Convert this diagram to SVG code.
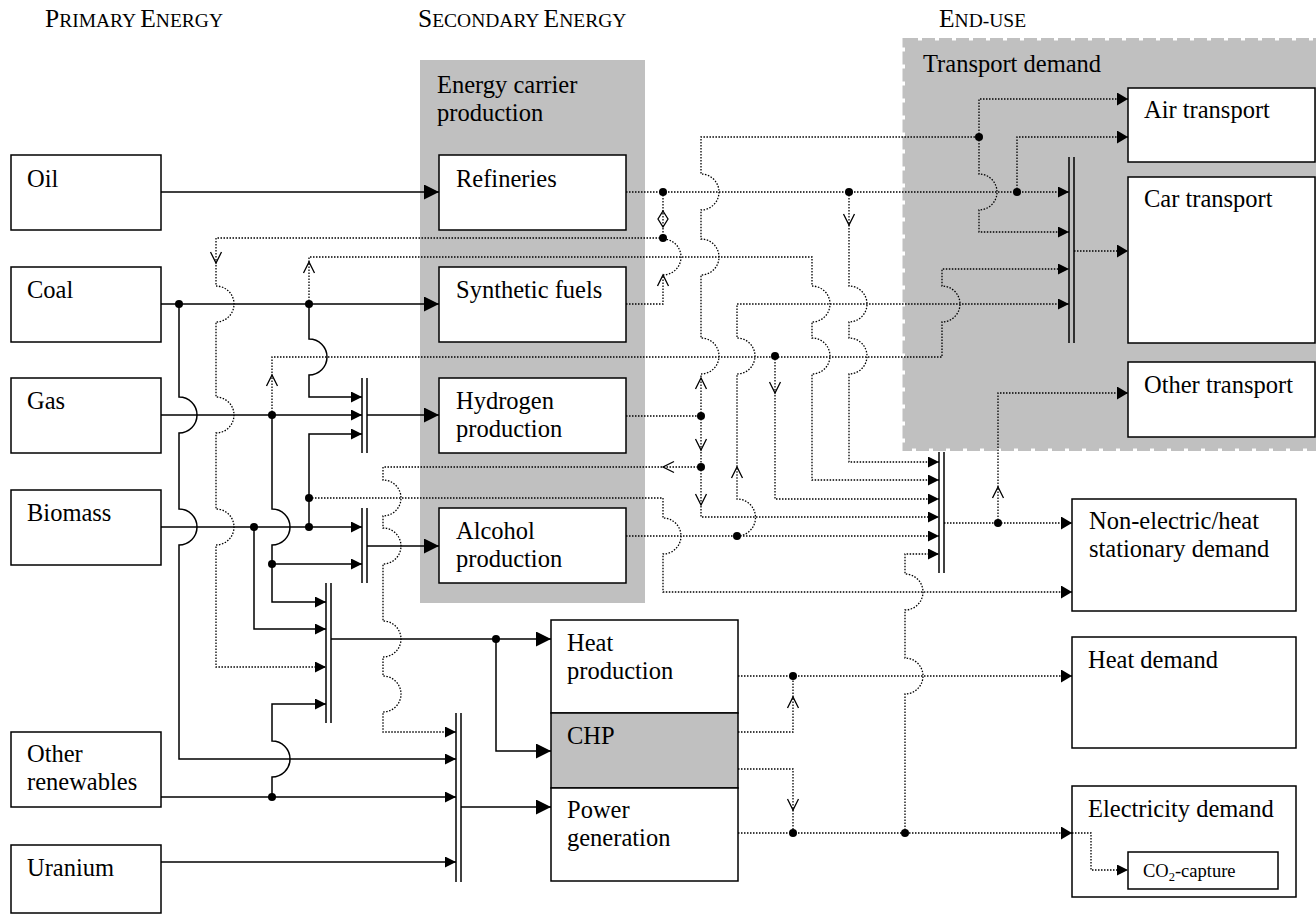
<svg xmlns="http://www.w3.org/2000/svg" width="1316" height="915" viewBox="0 0 1316 915">
<style>
text{font-family:"Liberation Serif","Times New Roman",serif;fill:#000}
.t{font-size:24.5px}
.box{fill:#fff;stroke:#000;stroke-width:1.5}
.s{fill:none;stroke:#000;stroke-width:1.5}
.d{fill:none;stroke:#000;stroke-width:1.3;stroke-dasharray:1.5 1.5}
.o{fill:none;stroke:#000;stroke-width:1.3}
.bus{stroke:#000;stroke-width:1.5}
.dot{fill:#000}
.cap{font-size:25.5px}
.sc{font-size:19.5px}
</style>
<defs>
<marker id="aL" markerUnits="userSpaceOnUse" markerWidth="15" markerHeight="15" refX="15" refY="7.5" orient="auto"><path d="M0,0 L15,7.5 L0,15 z" fill="#000"/></marker>
<marker id="aS" markerUnits="userSpaceOnUse" markerWidth="11" markerHeight="11" refX="11" refY="5.5" orient="auto"><path d="M0,0 L11,5.5 L0,11 z" fill="#000"/></marker>
<marker id="aM" markerUnits="userSpaceOnUse" markerWidth="11" markerHeight="13" refX="11" refY="6.5" orient="auto"><path d="M0,0 L11,6.5 L0,13 z" fill="#000"/></marker>
</defs>
<rect width="1316" height="915" fill="#fff"/>

<g id="headers">
<text x="45" y="27"><tspan class="cap">P</tspan><tspan class="sc">RIMARY </tspan><tspan class="cap">E</tspan><tspan class="sc">NERGY</tspan></text>
<text x="418" y="27"><tspan class="cap">S</tspan><tspan class="sc">ECONDARY </tspan><tspan class="cap">E</tspan><tspan class="sc">NERGY</tspan></text>
<text x="939" y="27"><tspan class="cap">E</tspan><tspan class="sc">ND-USE</tspan></text>
</g>

<g id="energy-carrier-production">
<rect x="420" y="60" width="225" height="543" fill="#c0c0c0"/>
<text class="t" x="437" y="93">Energy carrier</text>
<text class="t" x="437" y="121">production</text>
</g>

<g id="transport-demand">
<rect x="905" y="40.5" width="420" height="408" fill="#c0c0c0" stroke="#c0c0c0" stroke-width="5" stroke-dasharray="13 4"/>
<text class="t" x="923" y="72">Transport demand</text>
</g>

<g id="oil"><rect class="box" x="11" y="155" width="150" height="75"/><text class="t" x="27" y="187">Oil</text></g>
<g id="coal"><rect class="box" x="11" y="267" width="150" height="75"/><text class="t" x="27" y="298">Coal</text></g>
<g id="gas"><rect class="box" x="11" y="378" width="150" height="75"/><text class="t" x="27" y="409">Gas</text></g>
<g id="biomass"><rect class="box" x="11" y="490" width="150" height="75"/><text class="t" x="27" y="521">Biomass</text></g>
<g id="other-renewables"><rect class="box" x="11" y="732" width="150" height="75"/><text class="t" x="27" y="762">Other</text><text class="t" x="27" y="790">renewables</text></g>
<g id="uranium"><rect class="box" x="11" y="845" width="150" height="68"/><text class="t" x="27" y="876">Uranium</text></g>

<g id="refineries"><rect class="box" x="439" y="155" width="187" height="75"/><text class="t" x="456" y="187">Refineries</text></g>
<g id="synthetic-fuels"><rect class="box" x="439" y="267" width="187" height="75"/><text class="t" x="456" y="298">Synthetic fuels</text></g>
<g id="hydrogen-production"><rect class="box" x="439" y="378" width="187" height="75"/><text class="t" x="456" y="409">Hydrogen</text><text class="t" x="456" y="437">production</text></g>
<g id="alcohol-production"><rect class="box" x="439" y="508" width="187" height="75"/><text class="t" x="456" y="539">Alcohol</text><text class="t" x="456" y="567">production</text></g>

<g id="heat-production"><rect class="box" x="551" y="620" width="187" height="93"/><text class="t" x="567" y="651">Heat</text><text class="t" x="567" y="679">production</text></g>
<g id="chp"><rect x="551" y="713" width="187" height="75" fill="#c0c0c0" stroke="#000" stroke-width="1.5"/><text class="t" x="567" y="744">CHP</text></g>
<g id="power-generation"><rect class="box" x="551" y="788" width="187" height="93"/><text class="t" x="567" y="818">Power</text><text class="t" x="567" y="846">generation</text></g>

<g id="air-transport"><rect class="box" x="1128" y="88" width="187" height="74"/><text class="t" x="1144" y="118">Air transport</text></g>
<g id="car-transport"><rect class="box" x="1128" y="177" width="187" height="166"/><text class="t" x="1144" y="207">Car transport</text></g>
<g id="other-transport"><rect class="box" x="1128" y="362" width="187" height="75"/><text class="t" x="1144" y="393">Other transport</text></g>
<g id="non-electric-heat-stationary-demand"><rect class="box" x="1072" y="499" width="224" height="112"/><text class="t" x="1089" y="529">Non-electric/heat</text><text class="t" x="1089" y="557">stationary demand</text></g>
<g id="heat-demand"><rect class="box" x="1072" y="637" width="224" height="111"/><text class="t" x="1088" y="668">Heat demand</text></g>
<g id="electricity-demand"><rect class="box" x="1072" y="786" width="224" height="111"/><text class="t" x="1088" y="817">Electricity demand</text></g>
<g id="co2-capture"><rect class="box" x="1128" y="852" width="150" height="37"/><text x="1143" y="877" font-size="18.5">CO<tspan font-size="12.5" dy="4">2</tspan><tspan dy="-4">-capture</tspan></text></g>

<g id="connectors">
<g class="bus">
<line x1="362" y1="378" x2="362" y2="453"/><line x1="367" y1="378" x2="367" y2="453"/>
<line x1="362" y1="508" x2="362" y2="583"/><line x1="367" y1="508" x2="367" y2="583"/>
<line x1="326" y1="583" x2="326" y2="723"/><line x1="331" y1="583" x2="331" y2="723"/>
<line x1="456" y1="713" x2="456" y2="882"/><line x1="461" y1="713" x2="461" y2="882"/>
<line x1="939" y1="452" x2="939" y2="573"/><line x1="944" y1="452" x2="944" y2="573"/>
<line x1="1069" y1="157" x2="1069" y2="343"/><line x1="1074" y1="157" x2="1074" y2="343"/>
</g>
<path class="s" d="M161,192 H439" marker-end="url(#aL)"/>
<path class="s" d="M161,304 H439" marker-end="url(#aL)"/>
<path class="s" d="M179,304 V397 A18,18 0 0 1 179,433 V509 A18,18 0 0 1 179,545 V759 H456" marker-end="url(#aS)"/>
<path class="s" d="M309,304 V339 A18,18 0 0 1 309,375 V397 H362" marker-end="url(#aS)"/>
<path class="s" d="M161,415 H362" marker-end="url(#aS)"/>
<path class="s" d="M367,415 H439" marker-end="url(#aL)"/>
<path class="s" d="M272,415 V509 A18,18 0 0 1 272,545 V602 H326" marker-end="url(#aS)"/>
<path class="s" d="M272,564 H362" marker-end="url(#aS)"/>
<path class="s" d="M161,527 H362" marker-end="url(#aS)"/>
<path class="s" d="M309,527 V434 H362" marker-end="url(#aS)"/>
<path class="s" d="M254,527 V629 H326" marker-end="url(#aS)"/>
<path class="s" d="M367,546 H439" marker-end="url(#aL)"/>
<path class="s" d="M331,639 H551" marker-end="url(#aL)"/>
<path class="s" d="M496,639 V751 H551" marker-end="url(#aL)"/>
<path class="s" d="M161,797 H456" marker-end="url(#aS)"/>
<path class="s" d="M272,797 V777 A18,18 0 0 0 272,741 V704 H326" marker-end="url(#aS)"/>
<path class="s" d="M161,862 H456" marker-end="url(#aS)"/>
<path class="s" d="M461,807 H551" marker-end="url(#aL)"/>
<path class="d" d="M626,192 H1069" marker-end="url(#aS)"/>
<path class="d" d="M1017,192 V137 H1128" marker-end="url(#aM)"/>
<path class="d" d="M849,192 V286 A18,18 0 0 1 849,322 V338 A18,18 0 0 1 849,374 V462 H939" marker-end="url(#aS)"/>
<path class="d" d="M663,192 V238"/>
<path class="d" d="M663,238 H216 V286 A18,18 0 0 1 216,322 V397 A18,18 0 0 1 216,433 V509 A18,18 0 0 1 216,545 V667 H326" marker-end="url(#aS)"/>
<path class="d" d="M626,304 H663 V275 A18,18 0 0 0 663,239"/>
<path class="d" d="M309,304 V257 H812 V286 A18,18 0 0 1 812,322 V338 A18,18 0 0 1 812,374 V480 H939" marker-end="url(#aS)"/>
<path class="d" d="M272,415 V357 H942 V322 A18,18 0 0 0 942,286 V269 H1069" marker-end="url(#aS)"/>
<path class="d" d="M775,356 V499 H939" marker-end="url(#aS)"/>
<path class="d" d="M626,416 H701"/>
<path class="d" d="M701,416 V374 A18,18 0 0 0 701,338 V275 A18,18 0 0 0 701,239 V210 A18,18 0 0 0 701,174 V137 H979"/>
<path class="d" d="M979,137 V99 H1128" marker-end="url(#aM)"/>
<path class="d" d="M979,137 V174 A18,18 0 0 1 979,210 V232 H1069" marker-end="url(#aS)"/>
<path class="d" d="M701,416 V517 H939" marker-end="url(#aS)"/>
<path class="d" d="M701,467 H383 V480 A18,18 0 0 1 383,516 V528 A18,18 0 0 1 383,564 V621 A18,18 0 0 1 383,657 V676 A18,18 0 0 1 383,712 V732 H456" marker-end="url(#aS)"/>
<path class="d" d="M309,498 H663 V518 A18,18 0 0 1 663,554 V592 H1072" marker-end="url(#aM)"/>
<path class="d" d="M626,536 H939" marker-end="url(#aS)"/>
<path class="d" d="M737,536 A18.5,18.5 0 0 0 737,499 V374 A18,18 0 0 0 737,338 V304 H1069" marker-end="url(#aS)"/>
<path class="d" d="M944,523 H1072" marker-end="url(#aM)"/>
<path class="d" d="M998,523 V393 H1128" marker-end="url(#aM)"/>
<path class="d" d="M1074,251 H1128" marker-end="url(#aM)"/>
<path class="d" d="M738,676 H1072" marker-end="url(#aM)"/>
<path class="d" d="M738,732 H793 V676"/>
<path class="d" d="M738,769 H793 V833"/>
<path class="d" d="M738,833 H1072" marker-end="url(#aM)"/>
<path class="d" d="M1072,833 H1091 V870 H1128" marker-end="url(#aS)"/>
<path class="d" d="M905,833 V694 A18,18 0 0 0 905,658 V610 A18,18 0 0 0 905,574 V554 H939" marker-end="url(#aS)"/>
<path class="o" d="M210.5,252 L216,263 L221.5,252"/>
<path class="o" d="M303.5,273 L309,262 L314.5,273"/>
<path class="o" d="M266.5,386 L272,375 L277.5,386"/>
<path class="o" d="M657.5,286 L663,275 L668.5,286"/>
<path class="o" d="M843.5,214 L849,225 L854.5,214"/>
<path class="o" d="M695.5,389 L701,378 L706.5,389"/>
<path class="o" d="M695.5,439 L701,450 L706.5,439"/>
<path class="o" d="M695.5,494 L701,505 L706.5,494"/>
<path class="o" d="M674,461.5 L663,467 L674,472.5"/>
<path class="o" d="M731.5,478 L737,467 L742.5,478"/>
<path class="o" d="M769.5,382 L775,393 L780.5,382"/>
<path class="o" d="M992.5,498 L998,487 L1003.5,498"/>
<path class="o" d="M787.5,708 L793,697 L798.5,708"/>
<path class="o" d="M787.5,799 L793,810 L798.5,799"/>
<path class="o" d="M663,211 L668,219 L663,227 L658,219 Z"/>
<g class="dot">
<circle cx="179" cy="304" r="4"/><circle cx="309" cy="304" r="4"/>
<circle cx="272" cy="415" r="4"/><circle cx="254" cy="527" r="4"/>
<circle cx="309" cy="527" r="4"/><circle cx="309" cy="498" r="4"/>
<circle cx="272" cy="564" r="4"/><circle cx="496" cy="639" r="4"/>
<circle cx="272" cy="797" r="4"/>
<circle cx="663" cy="192" r="4"/><circle cx="663" cy="238" r="4"/>
<circle cx="849" cy="192" r="4"/><circle cx="1017" cy="192" r="4"/>
<circle cx="979" cy="137" r="4"/><circle cx="701" cy="416" r="4"/>
<circle cx="701" cy="467" r="4"/><circle cx="737" cy="536" r="4"/>
<circle cx="775" cy="356" r="4"/><circle cx="998" cy="523" r="4"/>
<circle cx="793" cy="676" r="4"/><circle cx="793" cy="833" r="4"/>
<circle cx="905" cy="833" r="4"/>
</g>
</g>
</svg>
